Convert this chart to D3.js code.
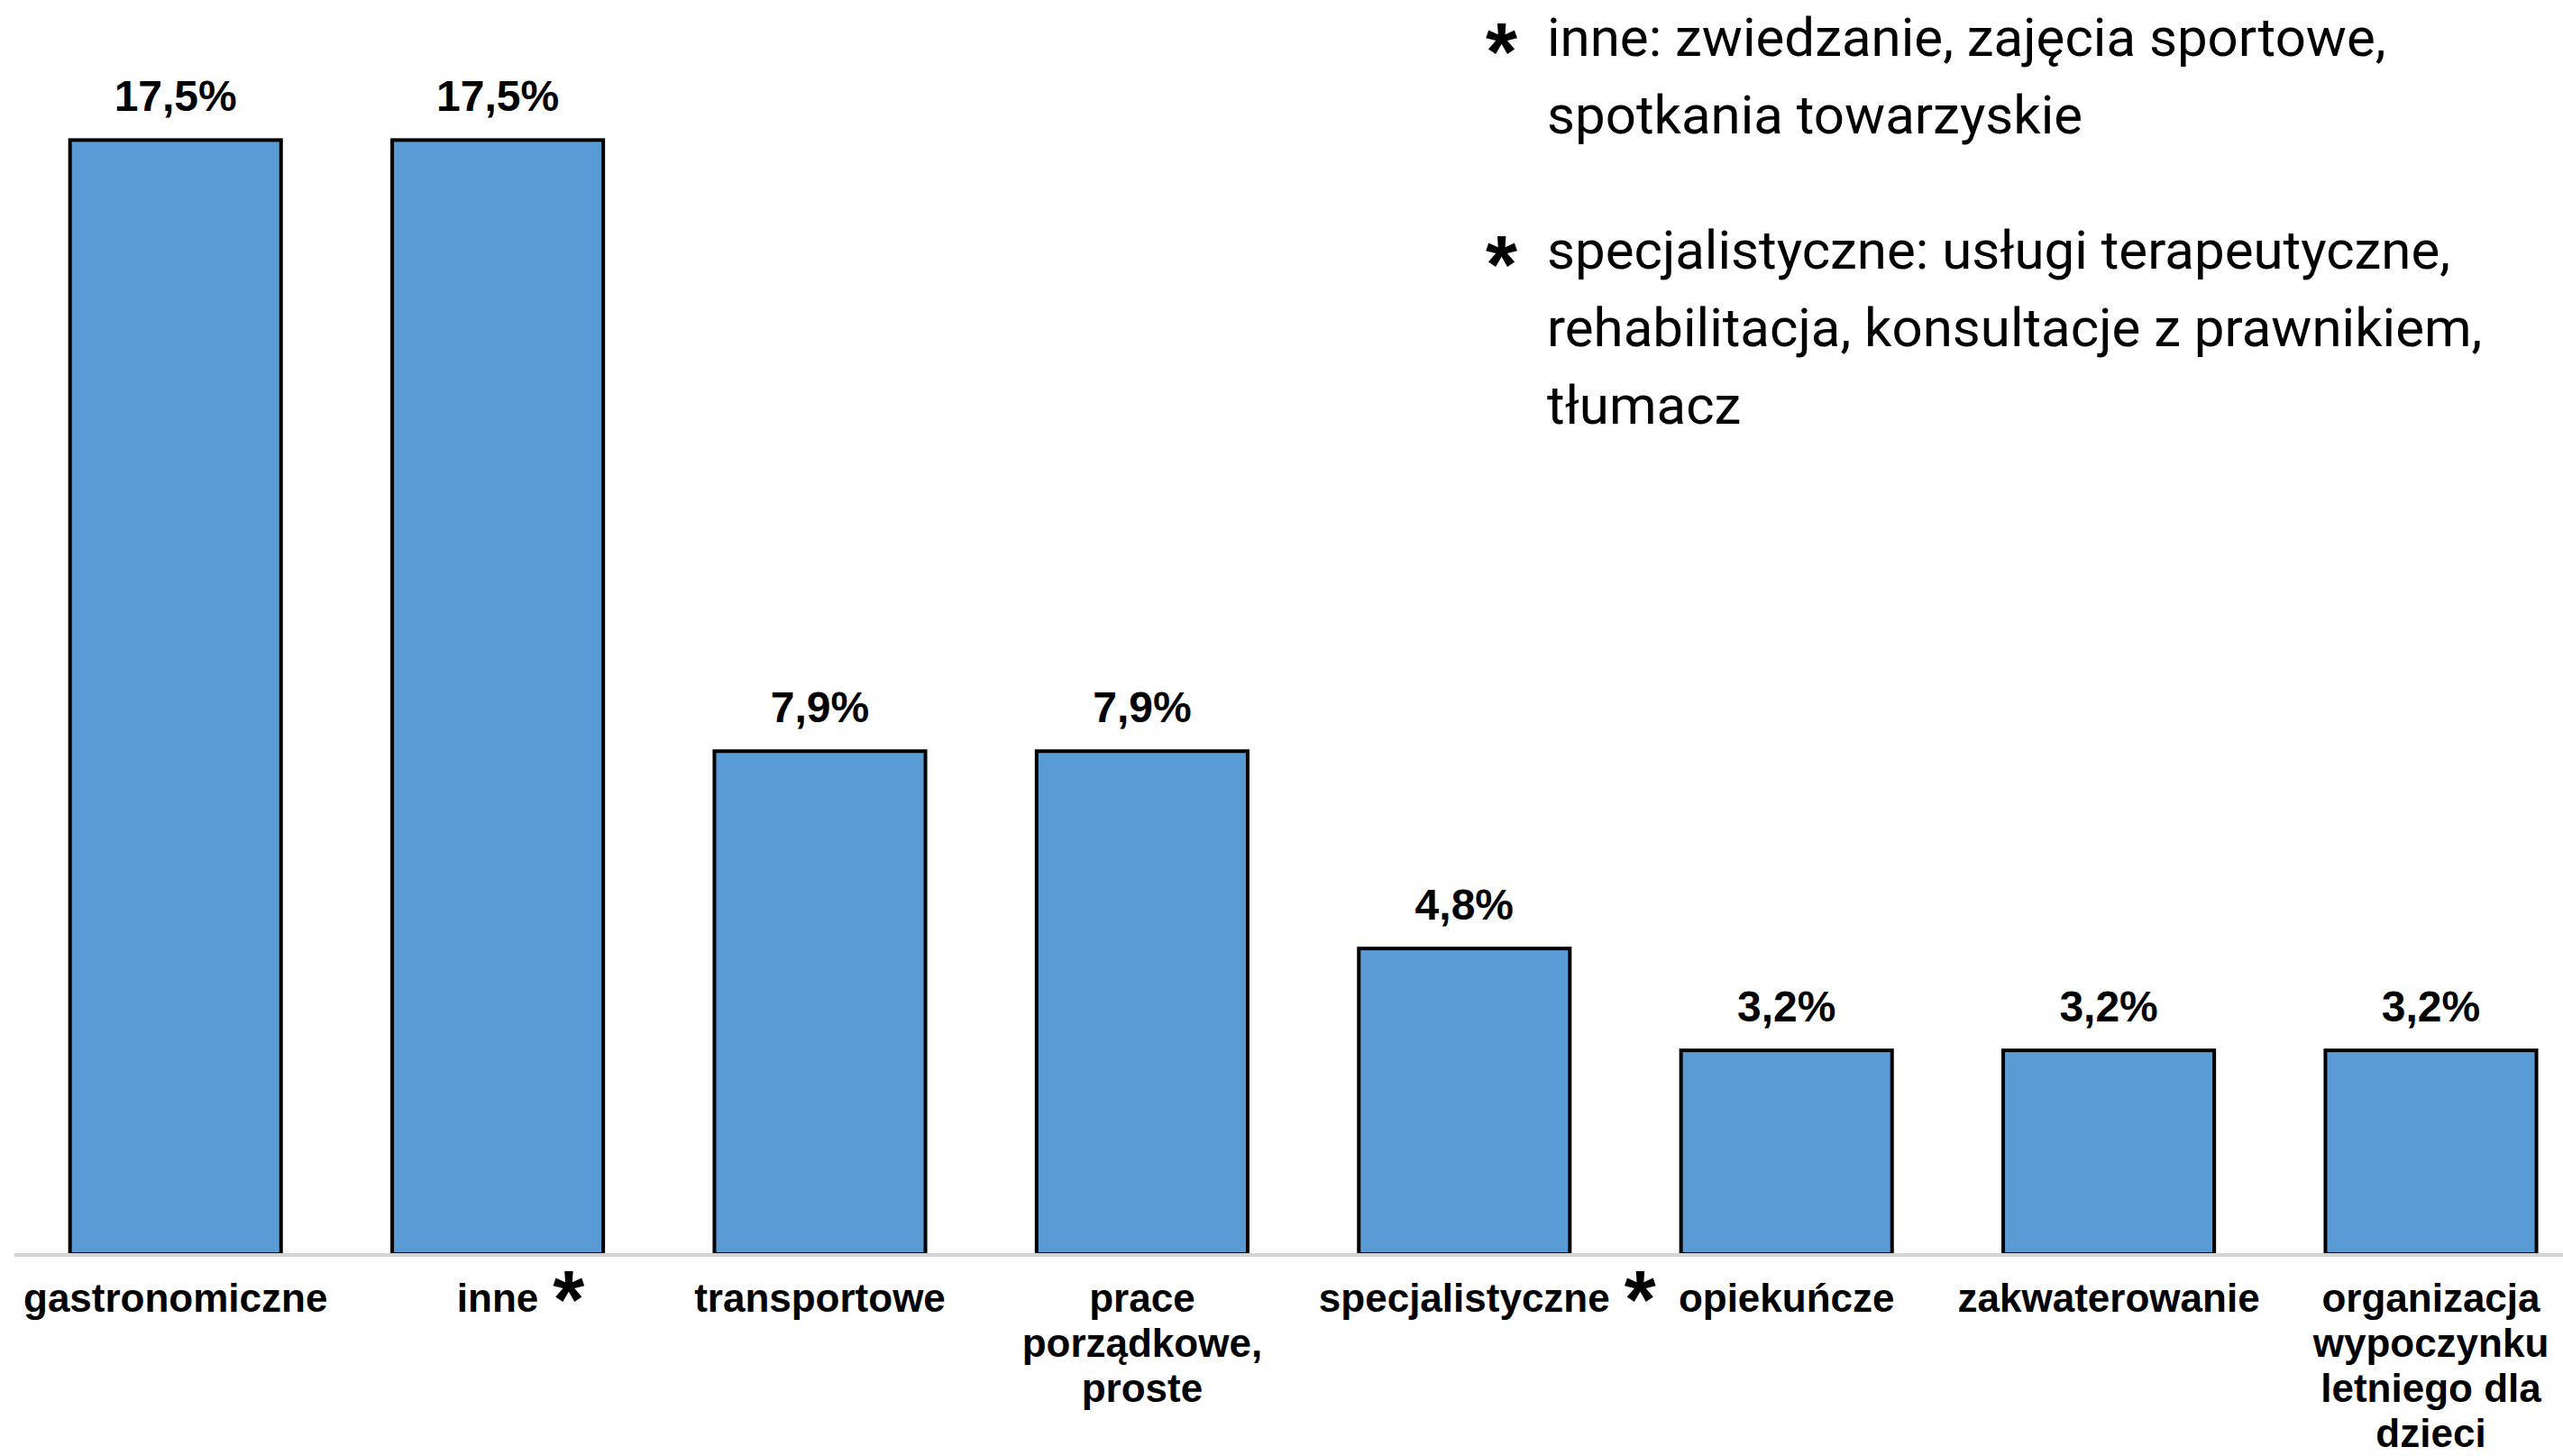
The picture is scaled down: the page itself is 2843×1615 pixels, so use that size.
<!DOCTYPE html>
<html>
<head>
<meta charset="utf-8">
<script src="https://cdn.jsdelivr.net/npm/d3@7"></script>
<style>
  html, body { margin: 0; padding: 0; background: #ffffff; }
  svg { display: block; }
</style>
</head>
<body>
<div id="chart"></div>
<script>
// ---- Data ----
const categories = [
  "gastronomiczne", "inne", "transportowe", "prace porządkowe, proste",
  "specjalistyczne", "opiekuńcze", "zakwaterowanie",
  "organizacja wypoczynku letniego dla dzieci"
];
const categoryLines = [
  ["gastronomiczne"], ["inne"], ["transportowe"], ["prace", "porządkowe,", "proste"],
  ["specjalistyczne"], ["opiekuńcze"], ["zakwaterowanie"],
  ["organizacja", "wypoczynku", "letniego dla", "dzieci"]
];
const values = [17.5, 17.5, 7.9, 7.9, 4.8, 3.2, 3.2, 3.2];
const valueLabels = ["17,5%", "17,5%", "7,9%", "7,9%", "4,8%", "3,2%", "3,2%", "3,2%"];
const starredCategories = ["inne", "specjalistyczne"];
const noteLines = [
  ["inne: zwiedzanie, zajęcia sportowe,", "spotkania towarzyskie"],
  ["specjalistyczne: usługi terapeutyczne,", "rehabilitacja, konsultacje z prawnikiem,", "tłumacz"]
];

// ---- Layout ----
const W = 2843, H = 1615;
const baseY = 1391;
const svg = d3.select("#chart").append("svg").attr("width", W).attr("height", H);

const x = d3.scaleBand()
  .domain(categories)
  .range([16, 16 + 8 * 357.4])
  .paddingInner(0.345)
  .paddingOuter(0.1725);

const y = d3.scaleLinear().domain([0, 19.7]).range([baseY, 0]);

const data = categories.map((c, i) => ({ c, v: values[i], label: valueLabels[i], lines: categoryLines[i] }));

// Bars
svg.append("g").selectAll("rect").data(data).join("rect")
  .attr("x", d => x(d.c))
  .attr("y", d => y(d.v))
  .attr("width", x.bandwidth())
  .attr("height", d => y(0) - y(d.v))
  .attr("fill", "#5b9bd5")
  .attr("stroke", "#000")
  .attr("stroke-width", 4);

// Baseline axis
const axis = svg.append("g").attr("transform", `translate(0,${baseY + 1})`)
  .call(d3.axisBottom(x).tickSize(0).tickFormat(""));
axis.select(".domain").attr("stroke", "#d4d4d4").attr("stroke-width", 4)
  .attr("d", `M${x.range()[0]},0H${W}`);

// Value labels
svg.append("g").selectAll("text").data(data).join("text")
  .attr("x", d => x(d.c) + x.bandwidth() / 2)
  .attr("y", d => y(d.v) - 32)
  .attr("text-anchor", "middle")
  .attr("font-family", "'Liberation Sans', Arial, sans-serif")
  .attr("font-weight", "bold")
  .attr("font-size", 48)
  .attr("fill", "#000")
  .text(d => d.label);

// Category labels
const catG = svg.append("g");
data.forEach(d => {
  const t = catG.append("text")
    .attr("x", x(d.c) + x.bandwidth() / 2)
    .attr("y", 1455)
    .attr("text-anchor", "middle")
    .attr("font-family", "'Liberation Sans', Arial, sans-serif")
    .attr("font-weight", "bold")
    .attr("font-size", 44)
    .attr("fill", "#000");
  d.lines.forEach((ln, j) => {
    t.append("tspan").attr("x", x(d.c) + x.bandwidth() / 2).attr("dy", j === 0 ? 0 : 50).text(ln);
  });
  if (starredCategories.includes(d.c)) {
    const bb = t.node().getBBox();
    catG.append("text")
      .attr("x", bb.x + bb.width + 16)
      .attr("y", 1473)
      .attr("font-family", "'Liberation Sans', Arial, sans-serif")
      .attr("font-weight", "bold")
      .attr("font-size", 90)
      .attr("fill", "#000")
      .text("*");
  }
});

// Notes (top right)
const noteG = svg.append("g");
const noteStarBase = [89, 325];
const noteFirstBase = [62, 298];
noteLines.forEach((lines, i) => {
  noteG.append("text")
    .attr("x", 1648)
    .attr("y", noteStarBase[i])
    .attr("font-family", "'Liberation Sans', Arial, sans-serif")
    .attr("font-weight", "bold")
    .attr("font-size", 90)
    .attr("fill", "#000")
    .text("*");
  const t = noteG.append("text")
    .attr("x", 1716)
    .attr("y", noteFirstBase[i])
    .attr("font-family", "Roboto, sans-serif")
    .attr("font-size", 60)
    .attr("fill", "#000");
  lines.forEach((ln, j) => {
    t.append("tspan").attr("x", 1716).attr("dy", j === 0 ? 0 : 86).text(ln);
  });
});
</script>
</body>
</html>
